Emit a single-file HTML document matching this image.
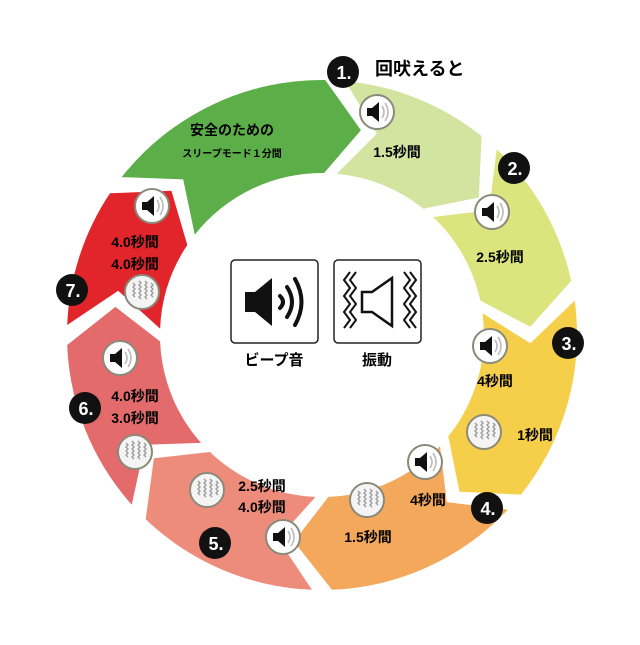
<!DOCTYPE html>
<html><head><meta charset="utf-8"><style>
body{margin:0;background:#fff;width:640px;height:640px;overflow:hidden}
svg text{font-family:"Liberation Sans","Noto Sans CJK JP",sans-serif;font-weight:bold}
</style></head><body>
<svg id="s" width="640" height="640" viewBox="0 0 640 640" xmlns="http://www.w3.org/2000/svg">
<defs>
<g id="spk"><circle r="17" fill="#fff" stroke="#8a8a7a" stroke-width="2"/><rect x="-10" y="-4" width="5" height="8" fill="#111"/><path d="M-5,-4 L2,-10 L2,10 L-5,4Z" fill="#111"/><path d="M5,-6 Q9,0 5,6 M8,-9 Q14,0 8,9" stroke="#bbb" stroke-width="1.6" fill="none"/></g>
<g id="vib"><circle r="17" fill="#f4f4f4" stroke="#8a8a7a" stroke-width="2"/><g stroke="#999" stroke-width="1.3" fill="none"><path d="M-9,-9 l2,2 l-2,2 l2,2 l-2,2 l2,2 l-2,2 l2,2 M-3,-11 l2,2 l-2,2 l2,2 l-2,2 l2,2 l-2,2 l2,2 l-2,2 l2,2 M3,-11 l2,2 l-2,2 l2,2 l-2,2 l2,2 l-2,2 l2,2 l-2,2 l2,2 M9,-9 l2,2 l-2,2 l2,2 l-2,2 l2,2 l-2,2 l2,2"/></g></g>
</defs>
<g id="ring"></g>
<text x="232" y="135" font-size="14" text-anchor="middle">安全のための</text>
<text x="232" y="157" font-size="10" text-anchor="middle">スリープモード１分間</text>
<g font-size="14" text-anchor="middle">
<use href="#spk" x="377" y="112"/><text x="397" y="157">1.5秒間</text>
<use href="#spk" x="492" y="212"/><text x="500" y="262">2.5秒間</text>
<use href="#spk" x="490" y="346"/><text x="495" y="386">4秒間</text>
<use href="#vib" x="484" y="432"/><text x="535" y="440">1秒間</text>
<use href="#spk" x="425" y="462"/><text x="428" y="505">4秒間</text>
<use href="#vib" x="367" y="500"/><text x="368" y="542">1.5秒間</text>
<use href="#vib" x="207" y="490"/><text x="262" y="491">2.5秒間</text><text x="262" y="512">4.0秒間</text>
<use href="#spk" x="283" y="537"/>
<use href="#spk" x="120" y="358"/><text x="135" y="401">4.0秒間</text><text x="135" y="423">3.0秒間</text>
<use href="#vib" x="135" y="452"/>
<use href="#spk" x="152" y="206"/><text x="135" y="247">4.0秒間</text><text x="135" y="269">4.0秒間</text>
<use href="#vib" x="142" y="292"/>
</g>
<text x="375" y="75" font-size="18">回吠えると</text>
<g font-size="18" fill="#fff" text-anchor="middle">
<circle cx="343" cy="72" r="16" fill="#111"/><text x="344" y="79">1.</text>
<circle cx="514" cy="168" r="16" fill="#111"/><text x="515" y="175">2.</text>
<circle cx="568" cy="343" r="16" fill="#111"/><text x="569" y="350">3.</text>
<circle cx="487" cy="508" r="16" fill="#111"/><text x="488" y="515">4.</text>
<circle cx="215" cy="543" r="16" fill="#111"/><text x="216" y="550">5.</text>
<circle cx="85" cy="408" r="16" fill="#111"/><text x="86" y="415">6.</text>
<circle cx="72" cy="290" r="16" fill="#111"/><text x="73" y="297">7.</text>
</g>
<rect x="231" y="260" width="87" height="83" rx="4" fill="#fff" stroke="#222" stroke-width="1.5"/>
<rect x="245" y="292" width="10" height="20" fill="#111"/><path d="M255,292 L272,278 L272,326 L255,312Z" fill="#111"/>
<path d="M280,296 Q286,302 280,308 M287,287 Q297,302 287,317 M295,279 Q308,302 295,325" stroke="#111" stroke-width="4" fill="none" stroke-linecap="round"/>
<rect x="334" y="260" width="87" height="83" rx="4" fill="#fff" stroke="#222" stroke-width="1.5"/>
<path d="M362,292 L372,292 L392,278 L392,326 L372,312 L362,312Z" fill="#fff" stroke="#111" stroke-width="2.5"/>
<path d="M350,272 l-6,8 l6,8 l-6,8 l6,8 l-6,8 l6,8 l-6,8 M356,272 l-6,8 l6,8 l-6,8 l6,8 l-6,8 l6,8 l-6,8 M404,272 l6,8 l-6,8 l6,8 l-6,8 l6,8 l-6,8 l6,8 M410,272 l6,8 l-6,8 l6,8 l-6,8 l6,8 l-6,8 l6,8" stroke="#111" stroke-width="2" fill="none"/>
<text x="274" y="365" font-size="15" text-anchor="middle">ビープ音</text>
<text x="377" y="365" font-size="15" text-anchor="middle">振動</text>
</svg>
<script>
(function(){
var cx=322,cy=335,R=255,r=162,m=(R+r)/2,d=10,g=4.5;
var segs=[[306,363,"#5caf48"],[3,41,"#d3e3a0"],[41,80,"#dce47e"],[80,131,"#f6cf4a"],[131,180,"#f3a85b"],[180,226,"#ee8c7c"],[226,270,"#e46b6b"],[270,306,"#e2242b"]];
function p(a,rad){var t=(a-90)*Math.PI/180;return (cx+rad*Math.cos(t)).toFixed(1)+","+(cy+rad*Math.sin(t)).toFixed(1);}
var h="";
segs.forEach(function(s){
var a1=s[0]+g/2,a2=s[1]-g/2;
var path="M"+p(a1,R)+" A"+R+","+R+" 0 0 1 "+p(a2,R)+" L"+p(a2+d,m)+" L"+p(a2,r)+" A"+r+","+r+" 0 0 0 "+p(a1,r)+" L"+p(a1+d,m)+"Z";
h+='<path d="'+path+'" fill="'+s[2]+'"/>';
});
document.getElementById("ring").innerHTML=h;
})();
</script>
</body></html>
